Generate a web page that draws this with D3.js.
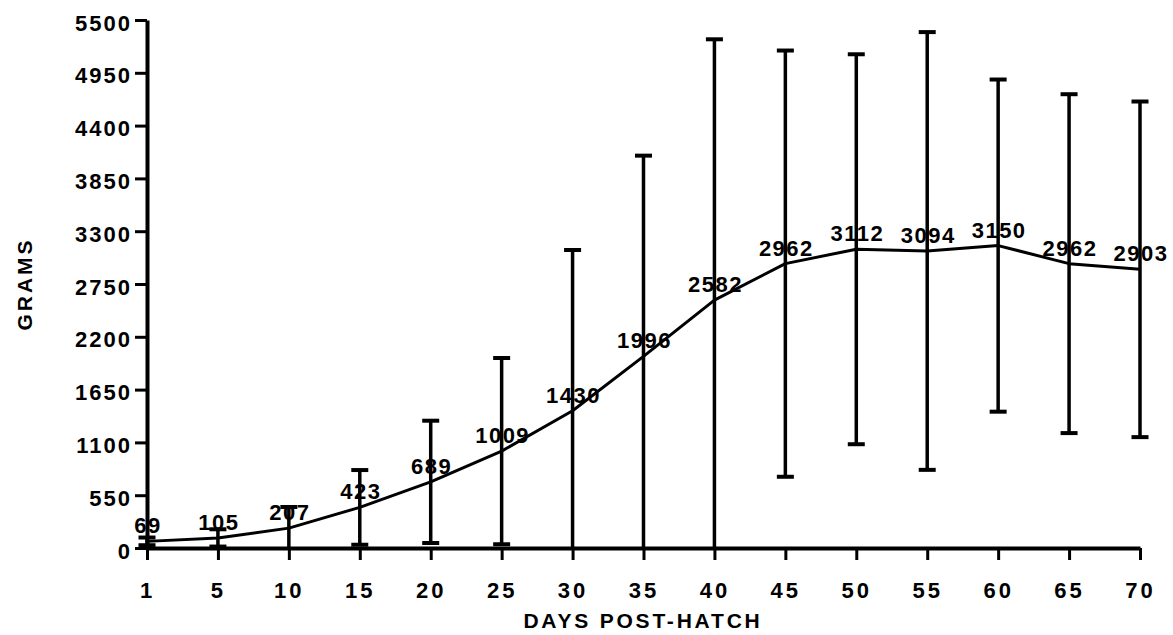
<!DOCTYPE html>
<html>
<head>
<meta charset="utf-8">
<script src="https://cdn.jsdelivr.net/npm/d3@7/dist/d3.min.js"></script>
<style>
  html, body { margin: 0; padding: 0; background: #fff; }
  svg { display: block; }
  text { font-family: "Liberation Sans", Arial, sans-serif; font-weight: bold; fill: #000; }
</style>
</head>
<body>
<svg id="chart" width="1173" height="635"></svg>
<script>
// Mean body mass (g) by day post-hatch, with standard deviation
const days = [1, 5, 10, 15, 20, 25, 30, 35, 40, 45, 50, 55, 60, 65, 70];
const meanGrams = [69, 105, 207, 423, 689, 1009, 1430, 1996, 2582, 2962, 3112, 3094, 3150, 2962, 2903];
const sdGrams = [40, 90, 220, 389, 637, 970, 1674, 2091, 2717, 2220, 2031, 2280, 1730, 1765, 1748];
const yTicks = [0, 550, 1100, 1650, 2200, 2750, 3300, 3850, 4400, 4950, 5500];
const xTitle = "DAYS POST-HATCH";
const yTitle = "GRAMS";

const svg = d3.select("#chart");

const x = d3.scalePoint().domain(days).range([147, 1140]);
const y = d3.scaleLinear().domain([0, 5500]).range([548, 20]);

const rows = days.map((d, i) => ({ day: d, mean: meanGrams[i], sd: sdGrams[i] }));

// Value labels sit under the error bars and the line
svg.append("g").selectAll("text")
  .data(rows)
  .join("text")
  .attr("x", d => x(d.day) + 1)
  .attr("y", d => y(d.mean) - 8)
  .attr("text-anchor", "middle")
  .attr("font-size", 22)
  .attr("letter-spacing", 1.5)
  .text(d => d.mean);

// Error bars (mean ± SD), clipped at zero
const capW = 17;
const bars = svg.append("g").attr("stroke", "#000");
rows.forEach(d => {
  const hi = d.mean + d.sd;
  const lo = Math.max(0, d.mean - d.sd);
  const cx = x(d.day);
  bars.append("line")
    .attr("x1", cx).attr("x2", cx)
    .attr("y1", y(hi)).attr("y2", y(lo))
    .attr("stroke-width", 3.5);
  bars.append("line")
    .attr("x1", cx - capW / 2).attr("x2", cx + capW / 2)
    .attr("y1", y(hi)).attr("y2", y(hi))
    .attr("stroke-width", 4);
  if (d.mean - d.sd > 0) {
    bars.append("line")
      .attr("x1", cx - capW / 2).attr("x2", cx + capW / 2)
      .attr("y1", y(lo)).attr("y2", y(lo))
      .attr("stroke-width", 4);
  }
});

// Growth line
svg.append("path")
  .datum(rows)
  .attr("fill", "none")
  .attr("stroke", "#000")
  .attr("stroke-width", 3)
  .attr("stroke-linejoin", "round")
  .attr("d", d3.line().x(d => x(d.day)).y(d => y(d.mean)).curve(d3.curveLinear));

// Axes
const yAxis = svg.append("g")
  .attr("transform", "translate(147,0)")
  .call(d3.axisLeft(y).tickValues(yTicks).tickFormat(d3.format("d"))
    .tickSize(12).tickSizeOuter(0).tickPadding(3));
const xAxis = svg.append("g")
  .attr("transform", "translate(0,548)")
  .call(d3.axisBottom(x).tickSize(12).tickSizeOuter(0).tickPadding(3));

[yAxis, xAxis].forEach(g => {
  g.select(".domain").attr("stroke", "#000").attr("stroke-width", 4);
  g.selectAll(".tick line").attr("stroke", "#000").attr("stroke-width", 3);
  g.selectAll(".tick text")
    .attr("fill", "#000")
    .attr("font-family", "Liberation Sans, Arial, sans-serif")
    .attr("font-weight", "bold")
    .attr("font-size", 22)
    .attr("letter-spacing", 2);
});
yAxis.selectAll(".tick text").attr("dy", "0.46em");
xAxis.selectAll(".tick text").attr("y", 50).attr("dy", 0).attr("letter-spacing", 3);

// Axis titles
svg.append("text")
  .attr("x", 643).attr("y", 628)
  .attr("text-anchor", "middle")
  .attr("font-size", 21)
  .attr("letter-spacing", 2.8)
  .text(xTitle);

svg.append("text")
  .attr("transform", "translate(32,284) rotate(-90)")
  .attr("text-anchor", "middle")
  .attr("font-size", 21)
  .attr("letter-spacing", 3)
  .text(yTitle);
</script>
</body>
</html>
